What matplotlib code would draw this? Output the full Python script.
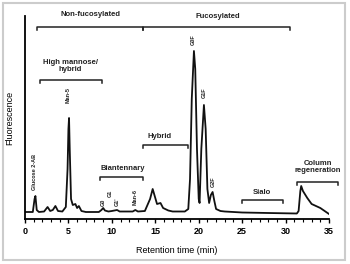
import matplotlib
matplotlib.use('Agg')
import matplotlib.pyplot as plt
from matplotlib.patches import Rectangle

plt.rcParams['font.family'] = ['Liberation Sans', 'DejaVu Sans']
plt.rcParams['font.weight'] = 'bold'
plt.rcParams['font.size'] = 6
plt.rcParams['text.color'] = '#222222'

# chromatogram (time in min, relative fluorescence)
time = [0, 0.9, 1.1, 1.2, 1.35, 1.6, 2.2, 2.6, 2.9, 3.2, 3.5, 3.8, 4.3, 4.7,
        4.9, 5.0, 5.07, 5.15, 5.3, 5.5, 5.8, 6.0, 6.2, 6.5, 7.0, 8.5, 8.8,
        9.0, 9.2, 9.6, 10.0, 10.6, 10.9, 12.4, 12.7, 13.0, 13.8, 14.1, 14.4,
        14.7, 14.9, 15.2, 15.6, 15.9, 16.5, 17.0, 18.4, 18.8, 19.0, 19.2,
        19.45, 19.6, 19.8, 20.0, 20.1, 20.3, 20.6, 20.8, 21.0, 21.2, 21.4,
        21.6, 21.8, 22.0, 22.5, 23.0, 25.0, 28.0, 31.3, 31.5, 31.7, 31.8,
        32.0, 32.5, 33.0, 34.0, 35.0]
signal = [7, 7, 20, 23, 9, 7, 7.5, 12, 8, 9, 13, 8, 7.5, 12,
          50, 90, 101, 70, 20, 14, 15, 11, 13, 8, 7, 7, 9,
          11, 8.5, 7.5, 8, 9, 7.5, 7.5, 9, 7.5, 8, 14, 20,
          30, 24, 15, 16, 11, 8.5, 7.5, 7.5, 10, 40, 120,
          168, 150, 70, 20, 16, 70, 114, 90, 30, 16, 24,
          27, 18, 10, 8, 7.5, 6.5, 6, 5.5, 8, 28, 33,
          28, 21, 15, 11, 5]

# peak labels (rotated)
peak_names = ['Glucose 2-AB', 'Man-5', 'G0', 'G1', "G1'", 'Man-6', 'G0F', 'G1F', 'G2F']
peak_x = [1.15, 4.95, 9.0, 9.8, 10.6, 12.7, 19.35, 20.6, 21.65]
peak_y = [47, 124, 17, 26, 17, 22, 179, 126, 37]

# group brackets: label, start, end, bracket height, label x, label y
groups = ['Non-fucosylated', 'Fucosylated', 'High mannose/\nhybrid', 'Biantennary',
          'Hybrid', 'Sialo', 'Column\nregeneration']
group_start = [1.4, 13.6, 1.7, 8.6, 13.6, 25.0, 31.3]
group_end = [13.6, 30.5, 8.9, 13.6, 18.8, 29.7, 36.0]
group_h = [192, 192, 139, 42, 74, 19, 37]
group_tx = [7.5, 22.2, 5.2, 11.2, 15.5, 27.3, 33.7]
group_ty = [204, 203, 153, 51, 82, 27, 52]

fig = plt.figure(figsize=(3.5, 2.64), dpi=100)
ax = fig.add_axes([25/350, 1 - 219/264, 304/350, 203/264])

ax.plot(time, signal, color='#111111', lw=1.3)

for name, x, y in zip(peak_names, peak_x, peak_y):
    ax.text(x, y, name, rotation=90, ha='center', va='center', fontsize=4)

for name, x0, x1, h, tx, ty in zip(groups, group_start, group_end, group_h, group_tx, group_ty):
    ax.plot([x0, x0, x1, x1], [h - 3, h, h, h - 3], color='#222222', lw=1.1, clip_on=False)
    ax.text(tx, ty, name, ha='center', va='center', fontsize=5.5, linespacing=1.1)

ax.set_xlim(0, 35)
ax.set_ylim(0, 203)
ax.set_xticks(range(0, 36, 5))
ax.set_xticks(range(0, 36), minor=True)
ax.set_yticks([])
ax.tick_params(axis='x', length=3, width=1, pad=3, labelsize=6.5)
ax.tick_params(axis='x', which='minor', length=2, width=0.8)
for s in ['top', 'right']:
    ax.spines[s].set_visible(False)
ax.spines['left'].set_linewidth(1.3)
ax.spines['bottom'].set_linewidth(1.3)

ax.set_xlabel('Retention time (min)', fontsize=6.5, fontweight='normal', labelpad=7)
ax.set_ylabel('Fluorescence', fontsize=6.5, labelpad=8)

fig.patches.append(Rectangle((0.009, 0.015), 0.977, 0.974, transform=fig.transFigure,
                             fill=False, edgecolor='#cccccc', lw=1.5))

fig.savefig('out.png', dpi=100)
